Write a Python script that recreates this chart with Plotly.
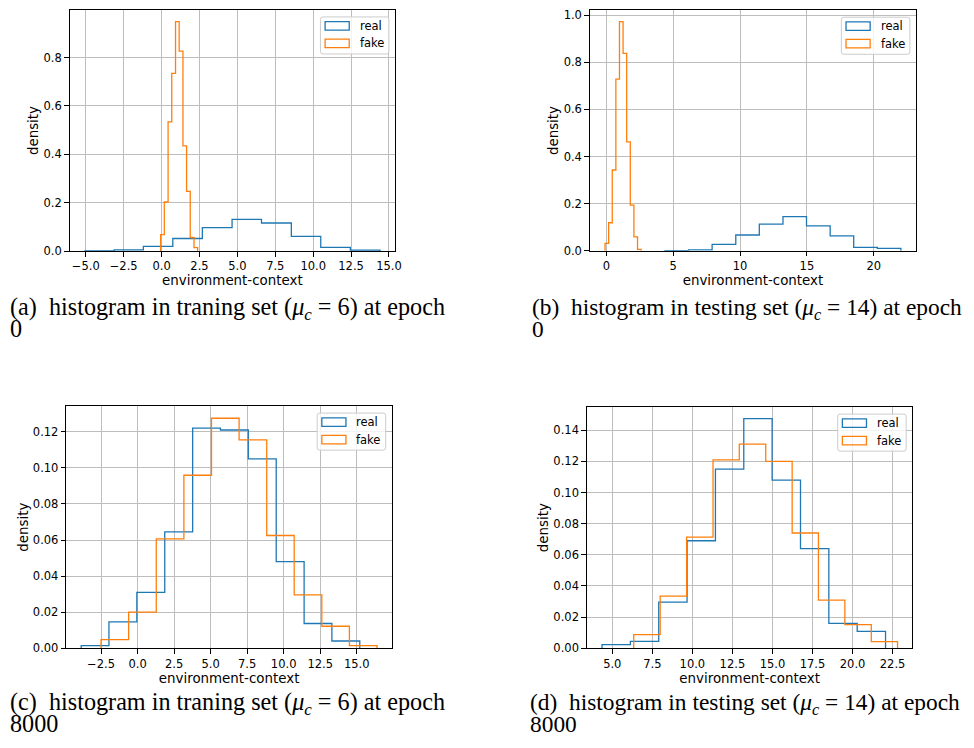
import plotly.graph_objects as go

# ---------------- data ----------------
A_real_edges = [-5.06, -3.12, -1.20, 0.74, 2.69, 4.65, 6.59, 8.56, 10.50, 12.45, 14.41]
A_real = [0.001, 0.005, 0.019, 0.052, 0.097, 0.131, 0.116, 0.061, 0.015, 0.004]
A_fake_edges = [-0.06, 0.18, 0.43, 0.67, 0.92, 1.16, 1.41, 1.65, 1.89, 2.14, 2.38]
A_fake = [0.068, 0.203, 0.534, 0.735, 0.949, 0.827, 0.435, 0.247, 0.056, 0.014]

B_real_edges = [4.38, 6.15, 7.91, 9.68, 11.44, 13.21, 14.97, 16.74, 18.50, 20.27, 22.03]
B_real = [0.001, 0.004, 0.027, 0.067, 0.113, 0.145, 0.106, 0.063, 0.014, 0.010]
B_fake_edges = [-0.10, 0.17, 0.44, 0.71, 0.98, 1.25, 1.52, 1.79, 2.06, 2.33, 2.60]
B_fake = [0.031, 0.119, 0.343, 0.729, 0.973, 0.838, 0.462, 0.194, 0.059, 0.006]

C_real_edges = [-3.86, -1.96, -0.05, 1.86, 3.77, 5.67, 7.58, 9.49, 11.40, 13.30, 15.21]
C_real = [0.0015, 0.0146, 0.031, 0.0645, 0.122, 0.121, 0.105, 0.048, 0.0137, 0.004]
C_fake_edges = [-2.50, -0.61, 1.28, 3.17, 5.06, 6.95, 8.84, 10.72, 12.61, 14.50, 16.39]
C_fake = [0.0048, 0.020, 0.0606, 0.0959, 0.1275, 0.1155, 0.0625, 0.0296, 0.0122, 0.0015]

D_real_edges = [4.36, 6.13, 7.90, 9.67, 11.44, 13.21, 14.98, 16.75, 18.52, 20.29, 22.06]
D_real = [0.0023, 0.0044, 0.0296, 0.069, 0.115, 0.1474, 0.108, 0.064, 0.0159, 0.0108]
D_fake_edges = [6.34, 7.99, 9.64, 11.29, 12.93, 14.58, 16.23, 17.87, 19.52, 21.17, 22.81]
D_fake = [0.0087, 0.0334, 0.0713, 0.121, 0.131, 0.120, 0.074, 0.0309, 0.0152, 0.0042]

A_xticks = [-5.0, -2.5, 0.0, 2.5, 5.0, 7.5, 10.0, 12.5, 15.0]
A_yticks = [0.0, 0.2, 0.4, 0.6, 0.8]
B_xticks = [0, 5, 10, 15, 20]
B_yticks = [0.0, 0.2, 0.4, 0.6, 0.8, 1.0]
C_xticks = [-2.5, 0.0, 2.5, 5.0, 7.5, 10.0, 12.5, 15.0]
C_yticks = [0.00, 0.02, 0.04, 0.06, 0.08, 0.10, 0.12]
D_xticks = [5.0, 7.5, 10.0, 12.5, 15.0, 17.5, 20.0, 22.5]
D_yticks = [0.00, 0.02, 0.04, 0.06, 0.08, 0.10, 0.12, 0.14]

series_names = ["real", "fake"]
x_title = "environment-context"
y_title = "density"

NB = "\u00a0"
MU = "<i>μ</i><sub><i>c</i></sub> = "
captions = [
    (f"(a){NB} histogram in traning set ({MU}6) at epoch", "0"),
    (f"(b){NB} histogram in testing set ({MU}14) at epoch", "0"),
    (f"(c){NB} histogram in traning set ({MU}6) at epoch", "8000"),
    (f"(d){NB} histogram in testing set ({MU}14) at epoch", "8000"),
]

# ---------------- layout constants ----------------
W, H = 974, 748
OFF = 8  # page body margin of the browser
C0, C1 = "#1f77b4", "#ff7f0e"
TICKFONT = dict(family="DejaVu Sans", size=11.5, color="black")
TITLEFONT = dict(family="DejaVu Sans", size=13.4, color="black")

# pixel boxes of the axes in the target picture: (left, right, top, bottom)
boxes = [
    (70, 398, 8, 252),
    (594, 922.7, 8.3, 251.7),
    (66.7, 394.7, 409, 654),
    (591, 919, 410, 654),
]
xranges = [(-6.07, 15.41), (-1.24, 23.17), (-4.88, 17.41), (3.41, 23.74)]
yranges = [(0, 0.997), (0, 1.021), (0, 0.1342), (0, 0.1548)]
caption_pos = [(8, 310.5, 330.5), (534, 310.5, 330.5), (8, 710, 730.5), (532, 710, 730.5)]
caption_size = [24.2, 23.4, 24.2, 23.4]


def PX(px):
    return min(1.0, max(0.0, (px - OFF) / W))


def PY(py):
    return min(1.0, max(0.0, 1 - (py - OFF) / H))


def fmt(v, nd):
    s = f"{v:.{nd}f}"
    return s.replace("-", "\u2212")


panels = [
    (A_real_edges, A_real, A_fake_edges, A_fake, A_xticks, 1, A_yticks, 1),
    (B_real_edges, B_real, B_fake_edges, B_fake, B_xticks, 0, B_yticks, 1),
    (C_real_edges, C_real, C_fake_edges, C_fake, C_xticks, 1, C_yticks, 2),
    (D_real_edges, D_real, D_fake_edges, D_fake, D_xticks, 1, D_yticks, 2),
]


def step_xy(edges, heights):
    xs = [edges[0]] + list(edges[:-1]) + [edges[-1]]
    ys = [0] + list(heights) + [0]
    return xs, ys


fig = go.Figure()
shapes = []
annotations = []

for i, (re_, rv, fe, fv, xt, xnd, yt, ynd) in enumerate(panels):
    n = "" if i == 0 else str(i + 1)
    xa, ya = "x" + n, "y" + n
    l, r, t, b = boxes[i]
    for edges, vals, col, name in ((re_, rv, C0, series_names[0]), (fe, fv, C1, series_names[1])):
        xs, ys = step_xy(edges, vals)
        fig.add_trace(go.Scatter(x=xs, y=ys, mode="lines", line=dict(color=col, width=1.3, shape="hv"),
                                 name=name, showlegend=False, xaxis=xa, yaxis=ya, hoverinfo="skip"))
    axcommon = dict(showline=True, linecolor="black", linewidth=1.1, mirror=True,
                    ticks="outside", ticklen=4.5, tickwidth=1, tickcolor="black",
                    showgrid=True, gridcolor="#bdbdbd", gridwidth=0.9, zeroline=False,
                    tickfont=TICKFONT, title_font=TITLEFONT, ticklabeloverflow="allow")
    fig.update_layout(**{
        "xaxis" + n: dict(axcommon, domain=[PX(l), PX(r)], range=list(xranges[i]), anchor=ya,
                          tickvals=xt, ticktext=[fmt(v, xnd) for v in xt],
                          title=dict(text=x_title, standoff=0)),
        "yaxis" + n: dict(axcommon, domain=[PY(b), PY(t)], range=list(yranges[i]), anchor=xa,
                          tickvals=yt, ticktext=[fmt(v, ynd) for v in yt],
                          title=dict(text=y_title, standoff=1)),
    })
    # legend (matplotlib-style, upper right)
    bl, bt = r - 6.3 - 69, t + 7
    bw, bh = 69, 37.5
    rr = 2.5
    pts = lambda a, c: f"{PX(a)},{PY(c)}"
    path = (f"M {pts(bl+rr, bt)} L {pts(bl+bw-rr, bt)} Q {pts(bl+bw, bt)} {pts(bl+bw, bt+rr)} "
            f"L {pts(bl+bw, bt+bh-rr)} Q {pts(bl+bw, bt+bh)} {pts(bl+bw-rr, bt+bh)} "
            f"L {pts(bl+rr, bt+bh)} Q {pts(bl, bt+bh)} {pts(bl, bt+bh-rr)} "
            f"L {pts(bl, bt+rr)} Q {pts(bl, bt)} {pts(bl+rr, bt)} Z")
    shapes.append(dict(type="path", xref="paper", yref="paper", path=path,
                       fillcolor="rgba(255,255,255,0.8)", line=dict(color="#cccccc", width=1), layer="above"))
    for k, col in enumerate((C0, C1)):
        py0 = bt + 4.8 + k * 17.7
        shapes.append(dict(type="rect", xref="paper", yref="paper",
                           x0=PX(bl + 4.7), x1=PX(bl + 29), y0=PY(py0), y1=PY(py0 + 8.6),
                           line=dict(color=col, width=1.3), fillcolor="rgba(0,0,0,0)", layer="above"))
        annotations.append(dict(xref="paper", yref="paper", x=PX(bl + 37.5), y=PY(py0 + 4.3),
                                xanchor="left", yanchor="middle", showarrow=False,
                                text=series_names[k], font=dict(family="DejaVu Sans", size=11.5, color="black")))
    # caption
    cx, cy1, cy2 = caption_pos[i]
    l1, l2 = captions[i]
    for txt, cy in ((l1, cy1), (l2, cy2)):
        annotations.append(dict(xref="paper", yref="paper", x=PX(cx), y=PY(cy), xanchor="left",
                                yanchor="middle", showarrow=False, text=txt,
                                font=dict(family="Liberation Serif", size=caption_size[i], color="black")))

fig.update_layout(width=W, height=H, margin=dict(l=0, r=0, t=0, b=0), paper_bgcolor="white",
                  plot_bgcolor="white", showlegend=False, shapes=shapes, annotations=annotations)

fig.write_html("out.html")
